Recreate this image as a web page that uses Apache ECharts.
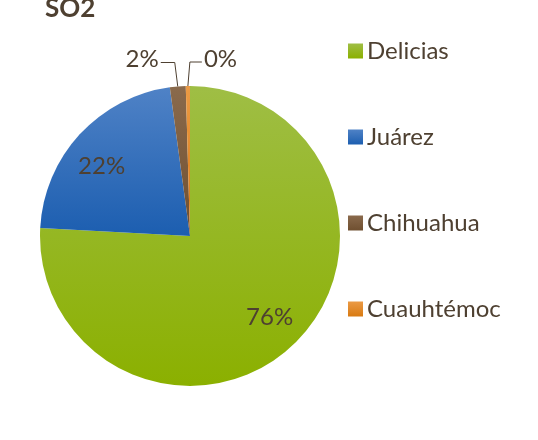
<!DOCTYPE html>
<html>
<head>
<meta charset="utf-8">
<script src="https://cdn.jsdelivr.net/npm/echarts@6/dist/echarts.min.js"></script>
<style>
  html, body { margin: 0; padding: 0; background: #fff; }
  #main { width: 538px; height: 440px; }
</style>
</head>
<body>
<div id="main"></div>
<script>
// datos
var ciudades = ['Delicias', 'Juárez', 'Chihuahua', 'Cuauhtémoc'];
var valores = [75.85, 22.0, 1.7, 0.45];

var colores = [
  ['#9fbe45', '#8bb000'],
  ['#4f82c6', '#1c5eb0'],
  ['#8a6a4c', '#6f4f30'],
  ['#eb9a45', '#d87a12']
];
// ajuste de etiquetas interiores
var desplaza = [[26, 25], [-31, -17]];

var txt = '#4e4031';

function grad(c) {
  return new echarts.graphic.LinearGradient(0, 0, 0, 1, [
    { offset: 0, color: c[0] },
    { offset: 1, color: c[1] }
  ]);
}

var datos = ciudades.map(function (n, i) {
  var d = { name: n, value: valores[i], itemStyle: { color: grad(colores[i]) } };
  if (i < 2) {
    d.label = { position: 'inside', offset: desplaza[i] };
    d.labelLine = { show: false };
  }
  return d;
});

var myChart = echarts.init(document.getElementById('main'));
myChart.setOption({
  animation: false,
  title: {
    text: 'SO2',
    left: 40,
    top: -9,
    textStyle: { fontFamily: 'Lato', fontWeight: 'bold', fontSize: 26, color: txt }
  },
  legend: {
    orient: 'vertical',
    left: 343,
    top: 33,
    icon: 'rect',
    itemWidth: 15,
    itemHeight: 15,
    itemGap: 60,
    selectedMode: false,
    textStyle: { fontFamily: 'Lato', fontSize: 24, color: txt, lineHeight: 26, padding: [0, 0, 0, -1] },
    data: ciudades
  },
  series: [{
    type: 'pie',
    center: [190, 236],
    radius: 150,
    startAngle: 90,
    percentPrecision: 0,
    avoidLabelOverlap: false,
    label: {
      position: 'outside',
      formatter: '{d}%',
      fontFamily: 'Lato',
      fontSize: 24,
      color: txt
    },
    labelLine: {
      show: true,
      length: 20,
      length2: 12,
      lineStyle: { color: txt, width: 1 }
    },
    labelLayout: function (p) {
      var pts = p.labelLinePoints;
      if (p.dataIndex < 2 || !pts) return;
      var a = pts[0];
      var izq = p.dataIndex === 2;
      var codo = [a[0] + (izq ? -3 : 2), a[1] - 24];
      var fin = [codo[0] + (izq ? -14 : 12), codo[1]];
      return {
        x: fin[0] + (izq ? -2 : 2),
        y: fin[1] - 3,
        align: izq ? 'right' : 'left',
        verticalAlign: 'middle',
        labelLinePoints: [a, codo, fin]
      };
    },
    data: datos
  }]
});
</script>
</body>
</html>
